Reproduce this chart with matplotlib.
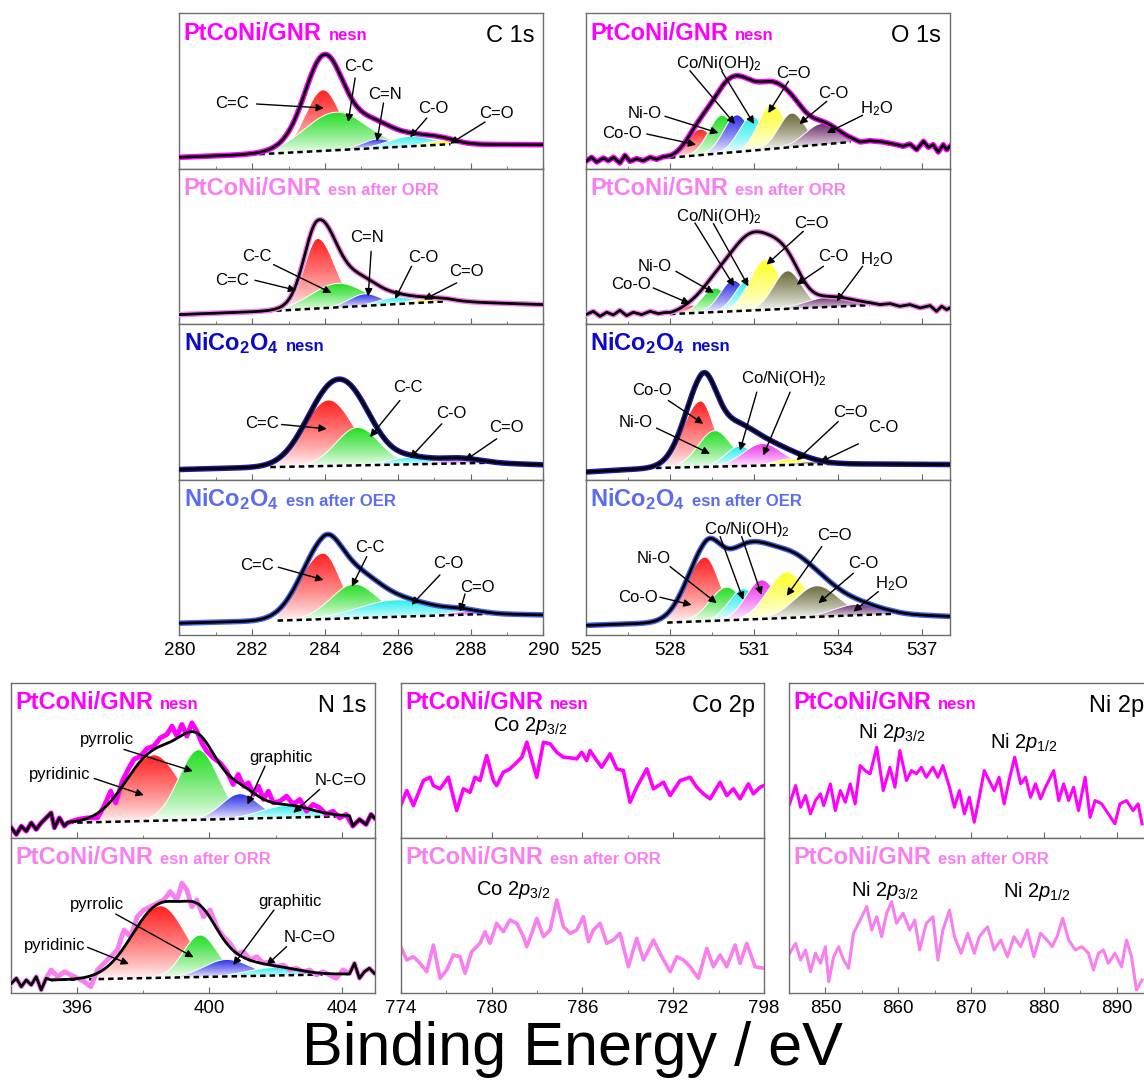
import numpy as np
import matplotlib
matplotlib.use('Agg')
import matplotlib.pyplot as plt
import matplotlib.colors as mcolors
from matplotlib.patches import Polygon
from matplotlib.ticker import MultipleLocator

plt.rcParams['font.family'] = 'Liberation Sans'
plt.rcParams['mathtext.fontset'] = 'custom'
plt.rcParams['mathtext.rm'] = 'Liberation Sans'
plt.rcParams['mathtext.it'] = 'Liberation Sans:italic'
plt.rcParams['mathtext.bf'] = 'Liberation Sans:bold'

MAG = '#ff00ff'
PINK = '#f77ff0'
NAVY = '#0a0ac8'
LBLUE = '#5a6cf0'
PEAK = {'r': '#ff2020', 'g': '#22dd22', 'b': '#2a2ae8', 'c': '#22eeee',
        'y': '#ffff22', 'o': '#6a6a3c', 'p': '#6c2c6c', 'm': '#ee30ee'}

# ---------------- C 1s (peak centre eV, height, left/right FWHM) ----------------
c1a_pos = [283.95, 284.3, 285.45, 286.35, 287.2]
c1a_amp = [61, 38, 9, 10, 4]
c1a_wl = [1.15, 2.0, 1.0, 1.4, 1.0]
c1a_wr = [1.1, 2.0, 1.0, 1.4, 1.0]
c1a_col = ['r', 'g', 'b', 'c', 'y']
c1a_bgx = [280, 282.2, 287.45, 290]
c1a_bgy = [11.4, 14.5, 24.5, 24.0]

c1b_pos = [283.8, 284.35, 285.1, 285.95, 286.9]
c1b_amp = [70, 24, 12, 7, 4]
c1b_wl = [0.85, 1.7, 1.0, 1.1, 1.2]
c1b_wr = [1.1, 1.7, 1.0, 1.1, 1.2]
c1b_col = ['r', 'g', 'b', 'c', 'y']
c1b_bgx = [280, 282.4, 287.35, 290]
c1b_bgy = [9.5, 12.8, 22.8, 19.5]

c1c_pos = [284.1, 284.9, 286.35, 287.7]
c1c_amp = [66, 38, 7, 5]
c1c_wl = [1.6, 1.4, 1.4, 1.2]
c1c_wr = [1.6, 1.4, 1.4, 1.2]
c1c_col = ['r', 'g', 'c', 'm']
c1c_bgx = [280, 282.5, 288.5, 290]
c1c_bgy = [10, 12.4, 16.7, 14.7]

c1d_pos = [283.95, 284.8, 285.95, 287.8]
c1d_amp = [66, 34, 17, 3]
c1d_wl = [1.5, 1.5, 2.4, 1.0]
c1d_wr = [1.1, 1.5, 2.4, 1.0]
c1d_col = ['r', 'g', 'c', 'm']
c1d_bgx = [280, 282.7, 288.5, 290]
c1d_bgy = [11.7, 14.3, 21, 20]

# ---------------- O 1s ----------------
o1a_pos = [529.07, 529.85, 530.38, 530.92, 531.63, 532.35, 533.42]
o1a_amp = [26, 38, 37, 34, 45, 34, 21]
o1a_wl = [1.1, 1.1, 1.1, 1.1, 1.1, 1.1, 1.4]
o1a_wr = [1.1, 1.1, 1.1, 1.1, 1.1, 1.1, 1.4]
o1a_col = ['r', 'g', 'b', 'c', 'y', 'o', 'p']
o1a_bgx = [528.0, 534.45]
o1a_bgy = [11, 26.7]
o1a_rawx = [525.0, 525.2, 525.38, 525.62, 525.8, 525.98, 526.21, 526.39, 526.57, 526.81,
            527.05, 527.29, 527.52, 527.76,
            534.79, 535.14, 535.62, 536.1, 536.33, 536.57, 536.81, 537.05, 537.23, 537.4,
            537.58, 537.76, 537.88, 538.0]
o1a_rawy = [7.4, 11.4, 6.7, 10.7, 8, 11.4, 5.7, 13.4, 7.4, 10, 8, 11.4, 9.4, 12,
            26.7, 28, 26.7, 24, 22.4, 24.7, 19, 27.4, 21.4, 24, 16.7, 24, 19, 22.4]

o1b_pos = [528.85, 529.6, 530.26, 530.8, 531.4, 532.2, 533.71]
o1b_amp = [8, 24, 31, 31, 50, 38, 10]
o1b_wl = [1.1, 1.1, 1.1, 1.1, 1.3, 1.2, 2.0]
o1b_wr = [1.1, 1.1, 1.1, 1.1, 1.3, 1.2, 2.0]
o1b_col = ['r', 'g', 'b', 'c', 'y', 'o', 'p']
o1b_bgx = [528.0, 535.14]
o1b_bgy = [10, 19]
o1b_rawx = [525.0, 525.26, 525.5, 525.74, 525.98, 526.21, 526.45, 526.69, 526.99, 527.29,
            527.58, 527.88,
            535.5, 535.86, 536.21, 536.57, 536.93, 537.29, 537.52, 537.7, 537.88, 538.0]
o1b_rawy = [9.5, 12.8, 7.8, 11.8, 9.2, 13.8, 8.5, 11.8, 9.5, 12.8, 10.5, 11.8,
            19.5, 20.5, 17.8, 19.5, 16.2, 18.5, 12.8, 17.8, 14.5, 16.2]

o1c_pos = [529.1, 529.6, 530.5, 531.3, 532.3, 533.0]
o1c_amp = [66, 36, 20, 22, 6, 3]
o1c_wl = [1.5, 1.4, 1.2, 1.6, 1.3, 1.3]
o1c_wr = [1.1, 1.4, 1.2, 1.6, 1.3, 1.3]
o1c_col = ['r', 'g', 'c', 'm', 'y', 'o']
o1c_bgx = [525, 527.5, 534.0, 538]
o1c_bgy = [7.5, 11.5, 15.7, 15.0]

o1d_pos = [529.25, 530.02, 530.62, 531.27, 532.17, 533.24, 534.67]
o1d_amp = [64, 33, 31, 39, 46, 31, 11]
o1d_wl = [1.6, 1.4, 1.2, 1.3, 1.6, 1.8, 1.9]
o1d_wr = [1.2, 1.4, 1.2, 1.3, 1.6, 1.8, 1.9]
o1d_col = ['r', 'g', 'c', 'm', 'y', 'o', 'p']
o1d_bgx = [525, 527.9, 535.9, 538]
o1d_bgy = [9.5, 12.3, 21, 18.5]

# ---------------- N 1s ----------------
n1a_pos = [398.32, 399.67, 400.92, 402.33]
n1a_amp = [66, 70, 25, 12]
n1a_wl = [2.0, 1.4, 1.3, 1.8]
n1a_wr = [1.8, 1.4, 1.3, 1.8]
n1a_col = ['r', 'g', 'b', 'c']
n1a_bgx = [395.72, 404.23]
n1a_bgy = [15, 21.7]
n1a_rawx = [394.02, 394.17, 394.32, 394.47, 394.62, 394.77, 394.92, 395.07, 395.22, 395.32,
            395.47, 395.62, 395.72, 396.02, 396.32, 396.62, 396.82, 397.02, 397.17, 397.37,
            397.57, 397.72, 397.92, 398.12, 398.32, 398.52, 398.72, 398.87, 399.02, 399.17,
            399.32, 399.47, 399.62, 399.77, 399.92, 400.12, 400.32, 400.52, 400.72, 400.87,
            401.03, 401.18, 401.33, 401.48, 401.63, 401.78, 401.93, 402.13, 402.33, 402.53,
            402.73, 402.93, 403.13, 403.33, 403.53, 403.73, 403.93, 404.13, 404.33, 404.53,
            404.73, 404.88, 404.98]
n1a_rawy = [10, 3.4, 11.7, 6.7, 15, 8.4, 15, 20, 25, 10, 20, 11.7, 15,
            18.4, 20, 20, 31.7, 46.7, 35, 56.7, 70, 78.4, 81.7, 89.4, 91.7, 100, 103.4, 111.7,
            101.7, 113.4, 101.7, 115, 106.7, 95, 86.7, 80, 75, 66.7, 53.4, 63.4, 51.7, 55,
            43.4, 51.7, 38.4, 46.7, 35, 36.7, 41.7, 33.4, 38.4, 26.7, 33.4, 30, 23.4, 26.7,
            20, 23.4, 11.7, 18.4, 13.4, 23.4, 20]

n1b_pos = [398.52, 399.72, 400.52, 401.93]
n1b_amp = [72, 42, 17, 8]
n1b_wl = [2.0, 1.2, 1.6, 1.8]
n1b_wr = [1.8, 1.2, 1.6, 1.8]
n1b_col = ['r', 'g', 'b', 'c']
n1b_bgx = [395.22, 404.23]
n1b_bgy = [12.7, 18.7]
n1b_rawx = [394.02, 394.17, 394.32, 394.47, 394.62, 394.77, 394.92, 395.07, 395.22, 395.42,
            395.62, 395.82, 396.02, 396.22, 396.42, 396.62, 396.82, 397.02, 397.22, 397.42,
            397.62, 397.82, 398.02, 398.22, 398.42, 398.62, 398.82, 399.02, 399.17, 399.32,
            399.47, 399.62, 399.82, 400.02, 400.22, 400.42, 400.62, 400.82, 401.03, 401.23,
            401.43, 401.63, 401.83, 402.03, 402.23, 402.43, 402.63, 402.83, 403.03, 403.23,
            403.43, 403.63, 403.83, 404.03, 404.23, 404.38, 404.53, 404.68, 404.83, 404.98]
n1b_rawy = [9.4, 14.4, 6, 12.7, 7.7, 16, 2.7, 14.4, 22.7, 16, 21, 17.7, 14.4, 11, 6, 22.7,
            29.4, 36, 42.7, 62.7, 56, 76, 82.7, 86, 89.4, 92.7, 101, 92.7, 109.4, 102.7, 86,
            92.7, 76, 82.7, 66, 56, 49.4, 39.4, 41, 32.7, 36, 29.4, 31, 26, 27.7, 22.7, 24.4,
            21, 22.7, 17.7, 21, 17.7, 14.4, 22.7, 19.4, 29.4, 14.4, 21, 24.4, 19.4]

# ---------------- Co 2p / Ni 2p raw spectra ----------------
co_a_x = [774.0, 774.4, 774.84, 775.06, 775.5, 775.94, 776.16, 776.6, 777.15, 777.7,
          778.14, 778.58, 778.91, 779.24, 779.68, 780.12, 780.34, 780.78, 781.22, 781.67,
          782.0, 782.33, 782.99, 783.43, 783.87, 784.31, 784.75, 785.19, 785.63, 785.96,
          786.29, 786.51, 786.95, 787.28, 787.83, 788.27, 788.71, 789.15, 789.59, 790.26,
          790.7, 791.36, 791.8, 792.46, 793.12, 793.56, 794.0, 794.44, 795.1, 795.54,
          795.98, 796.42, 796.97, 797.3, 797.74, 798.0]
co_a_y = [32.3, 47.3, 32.3, 40.6, 57.3, 60.6, 52.3, 49, 60.6, 27.3, 49, 45.6, 60.6, 57.3,
          82.3, 57.3, 52.3, 65.6, 69, 75.6, 80.6, 95.6, 60.6, 95.6, 94, 85.6, 80.6, 80, 79,
          85.6, 77.3, 87.3, 77.3, 70.6, 84, 69, 67.3, 35.6, 50.6, 69, 49, 55.6, 42.3, 57.3,
          60.6, 50.6, 44, 39, 55.6, 42.3, 49, 39, 54, 44, 50.6, 52.3]
co_b_x = [774.0, 774.4, 774.84, 775.28, 775.72, 776.16, 776.6, 777.04, 777.48, 777.92,
          778.25, 778.69, 779.24, 779.57, 779.9, 780.34, 780.78, 781.22, 781.67, 782.11,
          782.33, 782.66, 782.99, 783.43, 783.87, 784.31, 784.75, 785.19, 785.63, 786.07,
          786.4, 786.73, 787.17, 787.61, 788.05, 788.49, 789.04, 789.59, 790.04, 790.7,
          791.14, 791.8, 792.24, 792.68, 793.12, 793.67, 794.22, 794.66, 795.1, 795.54,
          796.09, 796.42, 796.86, 797.41, 798.0]
co_b_y = [46, 32.7, 36, 29.4, 21, 47.7, 14.4, 22.7, 37.7, 36, 19.4, 41, 49.4, 61, 49.4,
          69.4, 61, 72.7, 69.4, 56, 46, 59.4, 74.4, 56, 62.7, 92.7, 66, 59.4, 62.7, 76, 51,
          62.7, 69.4, 49.4, 52.7, 59.4, 26, 54.4, 32.7, 52.7, 39, 21, 36, 32.7, 26, 14.4,
          44.4, 26, 37.7, 26, 47.7, 29.4, 49.4, 26, 24.4]
ni_a_x = [845.09, 845.91, 846.59, 847.27, 847.95, 848.64, 849.32, 849.77, 850.68, 851.36,
          852.05, 852.73, 853.41, 854.09, 854.77, 855.45, 856.14, 857.05, 857.95, 858.86,
          859.55, 860.23, 861.14, 861.82, 862.5, 863.18, 863.86, 864.77, 865.45, 866.14,
          867.05, 867.73, 868.41, 869.09, 869.77, 870.45, 871.14, 871.82, 872.5, 873.18,
          873.86, 874.55, 875.23, 876.0, 876.82, 877.5, 878.18, 878.86, 879.55, 880.23,
          881.36, 882.05, 882.73, 883.41, 884.09, 884.77, 885.68, 886.36, 887.05, 887.95,
          888.86, 889.77, 890.45, 891.36, 892.27, 892.95, 893.5]
ni_a_y = [34, 52.3, 30.6, 42.3, 24, 37.3, 44, 32.3, 54, 27.3, 47.3, 35.6, 54, 34, 72.3,
          67.3, 64, 90.6, 47.3, 70.6, 50.6, 87.3, 57.3, 67.3, 64, 70.6, 60.6, 70.6, 60.6,
          72.3, 50.6, 30.6, 47.3, 24, 40.6, 15.6, 40.6, 67.3, 57.3, 47.3, 60.6, 34, 57.3,
          80.6, 54, 60.6, 40.6, 54, 39, 50.6, 67.3, 37.3, 54, 37.3, 50.6, 27.3, 60.6, 20.6,
          37.3, 34, 24, 14, 34, 37.3, 27.3, 34, 14]
ni_b_x = [845.09, 845.91, 846.59, 847.27, 847.95, 848.64, 849.32, 850.0, 850.45, 851.14,
          851.82, 852.5, 853.18, 853.86, 854.77, 855.68, 856.36, 857.05, 857.73, 858.41,
          859.09, 859.77, 860.68, 861.59, 862.27, 862.95, 863.86, 864.77, 865.45, 866.14,
          867.05, 867.73, 868.64, 869.55, 870.45, 871.14, 872.27, 873.18, 874.09, 875.0,
          875.91, 876.82, 877.73, 878.64, 879.55, 880.45, 881.14, 881.82, 882.59, 883.41,
          884.32, 885.23, 886.14, 886.82, 887.5, 888.18, 888.86, 889.77, 890.68, 891.36,
          892.05, 892.73, 893.5]
ni_b_y = [39.4, 49.4, 32.7, 42.7, 21, 39.4, 29.4, 46, 11, 36, 46, 32.7, 24.4, 59.4, 72.7,
          86, 62.7, 76, 56, 79.4, 91, 69.4, 79.4, 62.7, 72.7, 42.7, 69.4, 76, 32.7, 62.7,
          82.7, 56, 39.4, 59.4, 39.4, 56, 66, 42.7, 52.7, 36, 56, 46, 62.7, 36, 59.4, 52.7,
          46, 56, 74.4, 52.7, 42.7, 46, 39.4, 22.7, 39.4, 42.7, 29.4, 39.4, 26, 52.7, 36,
          2.7, 12.7]

# ---------------- peak labels: text, x, y, arrows (start x, start y, tip x, tip y) ----------------
c1a_notes = [('C=C', 281.44, 64.7, [(282.12, 64.7, 283.97, 60.7)]),
             ('C-C', 284.92, 102.4, [(284.83, 90.7, 284.64, 46.7)]),
             ('C=N', 285.65, 74, [(285.61, 65.7, 285.43, 27.4)]),
             ('C-O', 286.98, 60, [(286.8, 50.7, 286.34, 31.4)]),
             ('C=O', 288.72, 54.7, [(288.4, 46.7, 287.44, 25)])]
c1b_notes = [('C-C', 282.14, 67.8, [(282.59, 59.5, 284.18, 31.2)]),
             ('C=C', 281.44, 43.8, [(282.08, 43.8, 283.21, 33.8)]),
             ('C=N', 285.16, 86.2, [(285.27, 72.8, 285.19, 27.8)]),
             ('C-O', 286.7, 66.2, [(286.38, 57.8, 285.93, 25.2)]),
             ('C=O', 287.9, 52.2, [(287.62, 41.2, 286.72, 24.5)])]
c1c_notes = [('C=C', 282.26, 55.7, [(282.81, 55, 284.05, 50.7)]),
             ('C-C', 286.29, 91.7, [(286.06, 79, 285.24, 42.4)]),
             ('C-O', 287.46, 65.7, [(287.21, 55.7, 286.34, 21.4)]),
             ('C=O', 288.99, 52.4, [(288.72, 40.7, 287.85, 19)])]
c1d_notes = [('C=C', 282.14, 69.3, [(282.72, 67.7, 283.96, 55)]),
             ('C-C', 285.24, 87.7, [(285.15, 78.3, 284.74, 48.3)]),
             ('C-O', 287.39, 71, [(287.16, 60, 286.38, 30)]),
             ('C=O', 288.19, 47.7, [(287.85, 41, 287.71, 23.3)])]
OH2 = r'Co/Ni(OH)$_2$'
H2O = r'H$_2$O'
o1a_notes = [(OH2, 529.76, 105, [(528.71, 98, 530.32, 44.7), (529.85, 97.4, 531.0, 44.7)]),
             ('C=O', 532.4, 95, [(532.23, 87.4, 531.51, 55.7)]),
             ('Ni-O', 527.1, 55, [(527.82, 52.4, 529.73, 35.7)]),
             ('C-O', 533.83, 75, [(533.6, 67.4, 532.62, 44.7)]),
             ('Co-O', 526.3, 35.7, [(527.17, 34.7, 528.93, 24)]),
             (H2O, 535.36, 60, [(534.88, 53.4, 533.6, 35.7)])]
o1b_notes = [(OH2, 529.76, 107.8, [(528.89, 101.2, 530.29, 37.8), (529.55, 100.5, 530.8, 37.8)]),
             ('C=O', 533.06, 100.5, [(532.76, 92.8, 531.45, 59.5)]),
             ('Ni-O', 527.46, 57.2, [(528.21, 52.8, 529.57, 31.2)]),
             ('C-O', 533.83, 67.8, [(533.48, 57.8, 532.52, 39.5)]),
             ('Co-O', 526.61, 39.5, [(527.4, 36.2, 528.71, 20.5)]),
             (H2O, 535.36, 64.5, [(534.88, 57.8, 533.95, 22.8)])]
o1c_notes = [('Co-O', 527.35, 89, [(527.94, 79, 529.19, 55.7)]),
             ('Ni-O', 526.77, 56.7, [(527.52, 51.4, 529.43, 25.7)]),
             (OH2, 532.07, 100.7, [(531.1, 87.4, 530.5, 29), (532.29, 87.4, 531.33, 24)]),
             ('C=O', 534.43, 66.7, [(534.01, 58, 532.52, 19)]),
             ('C-O', 535.62, 51.7, [(534.73, 35.7, 533.36, 17.4)])]
o1d_notes = [(OH2, 530.74, 105, [(529.79, 98.3, 530.62, 35), (530.56, 98.3, 531.27, 40)]),
             ('C=O', 533.89, 99.3, [(533.42, 88.3, 532.17, 39)]),
             ('Ni-O', 527.4, 76.7, [(528.0, 68.3, 529.67, 31.7)]),
             ('C-O', 534.9, 71, [(534.55, 61.7, 533.3, 31.7)]),
             ('Co-O', 526.87, 37.7, [(527.64, 37.7, 528.77, 30)]),
             (H2O, 535.92, 51.7, [(535.44, 43.3, 534.55, 23.3)])]
n1a_notes = [('pyrrolic', 396.92, 98.4, [(397.42, 88.4, 399.5, 66.7)]),
             ('pyridinic', 395.49, 63.4, [(396.52, 59.4, 398.02, 42.7)]),
             ('graphitic', 402.15, 80, [(401.68, 71.7, 401.15, 33.4)]),
             ('N-C=O', 403.95, 57.7, [(403.33, 48.4, 402.53, 25)])]
n1b_notes = [('pyrrolic', 396.62, 87.7, [(397.17, 78.7, 399.52, 35.4)]),
             ('pyridinic', 395.32, 47.7, [(396.32, 45.4, 397.57, 28.7)]),
             ('graphitic', 402.43, 91, [(401.95, 82.7, 400.72, 27.7)]),
             ('N-C=O', 403.03, 55.4, [(402.33, 46, 401.73, 27.7)])]


def peak(x, c, a, wl, wr):
    s = np.where(x < c, wl, wr) / 2.3548
    return a * np.exp(-0.5 * ((x - c) / s) ** 2)


def shade(ax, x, base, top, color, z):
    keep = (top - base) > 0.3
    xs, b, t = x[keep], base[keep], top[keep]
    if len(xs) < 3:
        return
    verts = np.column_stack([np.r_[xs, xs[::-1]], np.r_[t, b[::-1]]])
    clip = Polygon(verts, closed=True, transform=ax.transData, fc='none', ec='none')
    ax.add_patch(clip)
    rgb = np.array(mcolors.to_rgb(color))
    f = np.linspace(0, 1, 200) ** 0.8
    img = 1 - f[:, None, None] * (1 - rgb[None, None, :])
    img = np.repeat(img, 2, axis=1)
    im = ax.imshow(img, extent=(xs[0], xs[-1], b.min(), t.max()), origin='lower',
                   aspect='auto', interpolation='bilinear', zorder=z)
    im.set_clip_path(clip)
    ax.plot(xs, t, color='white', lw=0.7, zorder=z + 0.01)


def fit_panel(ax, xlim, pos, amp, wl, wr, cols, bgx, bgy, line_col,
              raw_x=None, raw_y=None, raw_full=False):
    fit = (bgx[1], bgx[2]) if len(bgx) == 4 else (bgx[0], bgx[1])
    x = np.linspace(fit[0], fit[1], 700)
    bg = np.interp(x, bgx, bgy)
    comps = [peak(x, *p) for p in zip(pos, amp, wl, wr)]
    for i, (c, col) in enumerate(zip(comps, cols)):
        shade(ax, x, bg, bg + c, PEAK[col], 1 + i * 0.05)
    env = bg + np.sum(comps, axis=0)
    ax.plot(x, bg, color='black', lw=1.8, ls=(0, (2.2, 1.6)), zorder=3)
    if raw_x is None:
        xf = np.linspace(xlim[0], xlim[1], 900)
        yf = np.interp(xf, bgx, bgy) + np.sum([peak(xf, *p) for p in zip(pos, amp, wl, wr)], axis=0)
        ax.plot(xf, yf, color=line_col, lw=4, zorder=4)
        ax.plot(xf, yf, color='black', lw=2, zorder=5)
    else:
        rx, ry = np.array(raw_x), np.array(raw_y)
        lo, hi = rx < fit[0], rx > fit[1]
        bx = np.r_[rx[lo], x, rx[hi]]
        by = np.r_[ry[lo], env, ry[hi]]
        if raw_full:
            ax.plot(rx, ry, color=line_col, lw=3.5, zorder=4)
        else:
            ax.plot(bx, by, color=line_col, lw=4, zorder=4)
        ax.plot(bx, by, color='black', lw=2, zorder=5)


def notes(ax, items):
    for txt, tx, ty, arrows in items:
        ax.text(tx, ty, txt, ha='center', va='center', fontsize=12, zorder=8)
        for sx, sy, ex, ey in arrows:
            ax.annotate('', xy=(ex, ey), xytext=(sx, sy), zorder=8,
                        arrowprops=dict(arrowstyle='-|>', color='black', lw=1,
                                        mutation_scale=11, shrinkA=0, shrinkB=0))


def style(ax, xlim, ylim, major, minor, labels):
    ax.set_xlim(*xlim)
    ax.set_ylim(*ylim)
    ax.set_yticks([])
    ax.xaxis.set_major_locator(MultipleLocator(major))
    ax.xaxis.set_minor_locator(MultipleLocator(minor))
    ax.tick_params(axis='x', which='both', direction='in', labelsize=13.5,
                   labelbottom=labels, pad=5, color='#666666')
    ax.tick_params(axis='x', which='major', length=4)
    ax.tick_params(axis='x', which='minor', length=2.5)
    for s in ax.spines.values():
        s.set_color('#6e6e6e')
        s.set_linewidth(1)


def tag(ax, main, sub, color, elem=None):
    t = ax.text(0.012, 0.83, main, transform=ax.transAxes, fontsize=17,
                fontweight='bold', color=color, va='baseline', zorder=9)
    ax.annotate(sub, xy=(1, 0.83), xycoords=(t, 'axes fraction'), xytext=(5, 0),
                textcoords='offset points', fontsize=12, fontweight='bold',
                color=color, va='baseline', zorder=9)
    if elem:
        ax.text(0.975, 0.815, elem, transform=ax.transAxes, fontsize=17,
                ha='right', va='baseline', zorder=9)


fig = plt.figure(figsize=(11.44, 10.90), dpi=100)
W, H = 1144.0, 1090.0


def px_axes(left, top, w, h):
    return fig.add_axes([left / W, 1 - (top + h) / H, w / W, h / H])


NICO = r'$\mathbf{NiCo_2O_4}$'
row_tags = [('PtCoNi/GNR', 'nesn', MAG, MAG), ('PtCoNi/GNR', 'esn after ORR', PINK, PINK),
            (NICO, 'nesn', NAVY, '#1c1ca8'), (NICO, 'esn after OER', LBLUE, '#4262ee')]

c1s = [(c1a_pos, c1a_amp, c1a_wl, c1a_wr, c1a_col, c1a_bgx, c1a_bgy, c1a_notes),
       (c1b_pos, c1b_amp, c1b_wl, c1b_wr, c1b_col, c1b_bgx, c1b_bgy, c1b_notes),
       (c1c_pos, c1c_amp, c1c_wl, c1c_wr, c1c_col, c1c_bgx, c1c_bgy, c1c_notes),
       (c1d_pos, c1d_amp, c1d_wl, c1d_wr, c1d_col, c1d_bgx, c1d_bgy, c1d_notes)]
o1s = [(o1a_pos, o1a_amp, o1a_wl, o1a_wr, o1a_col, o1a_bgx, o1a_bgy, o1a_notes, o1a_rawx, o1a_rawy),
       (o1b_pos, o1b_amp, o1b_wl, o1b_wr, o1b_col, o1b_bgx, o1b_bgy, o1b_notes, o1b_rawx, o1b_rawy),
       (o1c_pos, o1c_amp, o1c_wl, o1c_wr, o1c_col, o1c_bgx, o1c_bgy, o1c_notes, None, None),
       (o1d_pos, o1d_amp, o1d_wl, o1d_wr, o1d_col, o1d_bgx, o1d_bgy, o1d_notes, None, None)]

ROW_H = 155.4
for r in range(4):
    top = 13.3 + r * ROW_H
    main, sub, tcol, lcol = row_tags[r]

    ax = px_axes(179.3, top, 364, ROW_H)
    pos, amp, wl, wr, cols, bgx, bgy, nts = c1s[r]
    fit_panel(ax, (280, 290), pos, amp, wl, wr, cols, bgx, bgy, lcol)
    notes(ax, nts)
    style(ax, (280, 290), (0, ROW_H), 2, 1, r == 3)
    tag(ax, main, sub, tcol, 'C 1s' if r == 0 else None)

    ax = px_axes(586, top, 364, ROW_H)
    pos, amp, wl, wr, cols, bgx, bgy, nts, rx, ry = o1s[r]
    fit_panel(ax, (525, 538), pos, amp, wl, wr, cols, bgx, bgy, lcol, rx, ry)
    notes(ax, nts)
    style(ax, (525, 538), (0, ROW_H), 3, 1.5, r == 3)
    tag(ax, main, sub, tcol, 'O 1s' if r == 0 else None)

# bottom block
BH = 154.85
n1s = [(n1a_pos, n1a_amp, n1a_wl, n1a_wr, n1a_col, n1a_bgx, n1a_bgy, n1a_notes, n1a_rawx, n1a_rawy),
       (n1b_pos, n1b_amp, n1b_wl, n1b_wr, n1b_col, n1b_bgx, n1b_bgy, n1b_notes, n1b_rawx, n1b_rawy)]
co = [(co_a_x, co_a_y), (co_b_x, co_b_y)]
ni = [(ni_a_x, ni_a_y), (ni_b_x, ni_b_y)]
co_notes = [(782.55, 112.3), (781.44, 102.7)]
ni_notes = [[(859.09, 105.6, '3/2'), (877.27, 95.6, '1/2')],
            [(858.18, 102.7, '3/2'), (879.09, 101, '1/2')]]

for r in range(2):
    top = 683 + r * BH
    main, sub, tcol, lcol = row_tags[r]

    ax = px_axes(10.7, top, 364.3, BH)
    pos, amp, wl, wr, cols, bgx, bgy, nts, rx, ry = n1s[r]
    fit_panel(ax, (394, 405), pos, amp, wl, wr, cols, bgx, bgy, lcol, rx, ry, raw_full=True)
    notes(ax, nts)
    style(ax, (394, 405), (0, BH), 4, 2, r == 1)
    tag(ax, main, sub, tcol, 'N 1s' if r == 0 else None)

    ax = px_axes(400.7, top, 363.3, BH)
    ax.plot(co[r][0], co[r][1], color=lcol, lw=2.6)
    tx, ty = co_notes[r]
    ax.text(tx, ty, r'Co 2$\mathit{p}_{\mathit{3/2}}$', ha='center', va='center', fontsize=14.5)
    style(ax, (774, 798), (0, BH), 6, 3, r == 1)
    tag(ax, main, sub, tcol, 'Co 2p' if r == 0 else None)

    ax = px_axes(789, top, 364, BH)
    ax.plot(ni[r][0], ni[r][1], color=lcol, lw=2.2)
    for tx, ty, j in ni_notes[r]:
        ax.text(tx, ty, r'Ni 2$\mathit{p}_{\mathit{%s}}$' % j, ha='center', va='center', fontsize=14.5)
    style(ax, (845, 895), (0, BH), 10, 5, r == 1)
    tag(ax, main, sub, tcol, 'Ni 2p' if r == 0 else None)

fig.text(0.5, 0.037, 'Binding Energy / eV', ha='center', va='center', fontsize=44)

fig.savefig('out.png', dpi=100)
